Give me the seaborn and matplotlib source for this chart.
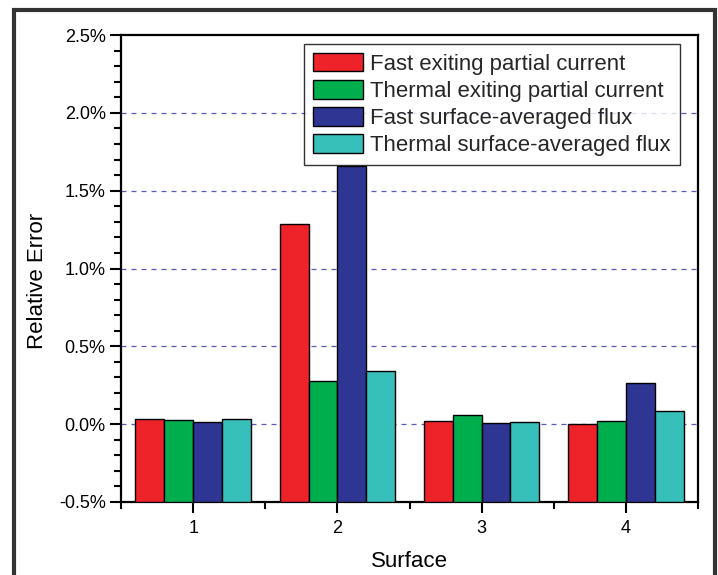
import matplotlib
matplotlib.use("Agg")
import matplotlib.pyplot as plt
import matplotlib.patches as mpatches
from matplotlib.ticker import MultipleLocator, FixedLocator, FuncFormatter
import seaborn as sns
import pandas as pd

surfaces = ["1", "2", "3", "4"]
series = ["Fast exiting partial current", "Thermal exiting partial current",
          "Fast surface-averaged flux", "Thermal surface-averaged flux"]
fast_current = [0.032, 1.285, 0.019, 0.002]
thermal_current = [0.028, 0.276, 0.060, 0.019]
fast_flux = [0.013, 1.660, 0.006, 0.265]
thermal_flux = [0.032, 0.340, 0.013, 0.085]
colors = ["#EE2229", "#00AE4E", "#2E3593", "#37BFBA"]
y_floor = -0.5

rows = []
for name, vals in zip(series, [fast_current, thermal_current, fast_flux, thermal_flux]):
    for s, v in zip(surfaces, vals):
        rows.append({"Surface": s, "Series": name, "Value": v})
df = pd.DataFrame(rows)

sns.set_theme(style="white")
plt.rcParams["font.family"] = ["Liberation Sans", "DejaVu Sans"]

fig = plt.figure(figsize=(7.18, 5.75), dpi=100)
ax = fig.add_axes([121 / 718, 1 - 502 / 575, (698 - 121) / 718, (502 - 35) / 575])

sns.barplot(data=df, x="Surface", y="Value", hue="Series", hue_order=series,
            palette=colors, order=surfaces, width=0.8, edgecolor="black",
            linewidth=1.0, saturation=1, legend=False, ax=ax, zorder=3)

# bars in the original rise from the bottom of the axis (-0.5 %)
for p in ax.patches:
    top = p.get_y() + p.get_height()
    p.set_y(y_floor)
    p.set_height(top - y_floor)

ax.set_xlim(-0.5, 3.5)
ax.set_ylim(-0.5, 2.5)
ax.yaxis.set_major_locator(MultipleLocator(0.5))
ax.yaxis.set_minor_locator(MultipleLocator(0.1))
ax.yaxis.set_major_formatter(FuncFormatter(lambda v, p: f"{v:.1f}%"))
ax.xaxis.set_minor_locator(FixedLocator([-0.5, 0.5, 1.5, 2.5, 3.5]))

for yv in [0.0, 0.5, 1.0, 1.5, 2.0]:
    ax.axhline(yv, color="#5a5ab8", lw=0.9, ls=(0, (4, 4)), zorder=1)

for sp in ax.spines.values():
    sp.set_visible(True)
    sp.set_color("black")
    sp.set_linewidth(1.6)

ax.tick_params(axis="both", which="major", direction="out", length=8, width=1.5,
               labelsize=13, color="black", labelcolor="black")
ax.tick_params(axis="both", which="minor", direction="out", length=5, width=1.5,
               color="black")
ax.tick_params(top=False, right=False, left=True, bottom=True, which="both")
ax.tick_params(axis="y", pad=3)
ax.tick_params(axis="x", pad=5)

ax.set_xlabel("Surface", fontsize=16, labelpad=10, color="black")
ax.set_ylabel("Relative Error", fontsize=16, color="black")
ax.yaxis.set_label_coords(-0.127, 0.473)

handles = [mpatches.Patch(facecolor=c, edgecolor="black", linewidth=1.0, label=l)
           for c, l in zip(colors, series)]
leg = ax.legend(handles=handles, loc="upper right", bbox_to_anchor=(0.969, 0.981),
                fontsize=15.9, frameon=True, fancybox=False, borderpad=0.42,
                labelspacing=0.24, handlelength=2.25, handleheight=0.9,
                handletextpad=0.32, borderaxespad=0)
leg.get_frame().set_edgecolor("black")
leg.get_frame().set_linewidth(1.0)
leg.set_zorder(5)

frame = mpatches.Rectangle((14 / 718, -0.05), (715 - 14) / 718, (575 - 10) / 575 + 0.05,
                           transform=fig.transFigure, fill=False,
                           edgecolor="#333333", linewidth=3, clip_on=False)
fig.patches.append(frame)

fig.savefig("out.png", dpi=100)
